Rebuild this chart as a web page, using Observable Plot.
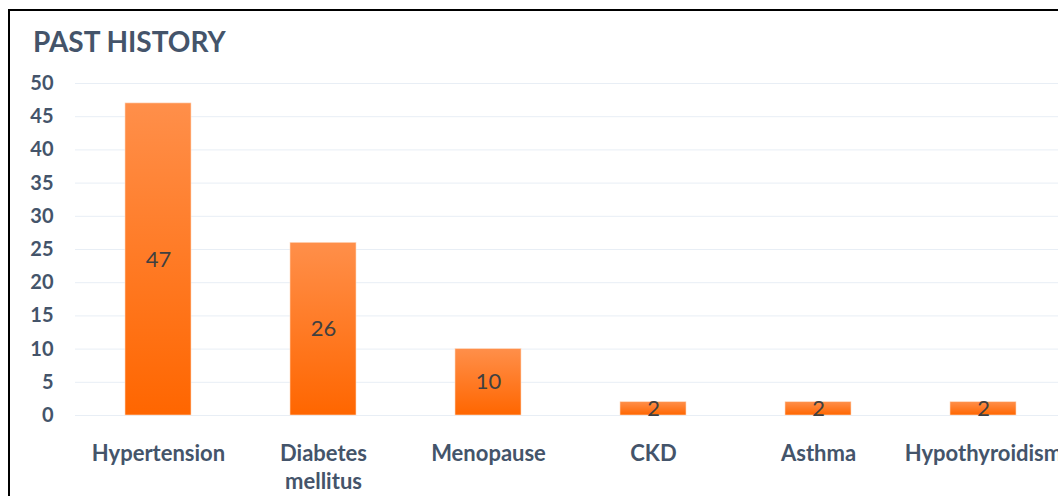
<!DOCTYPE html>
<html>
<head>
<meta charset="utf-8">
<script src="https://cdn.jsdelivr.net/npm/d3@7"></script>
<script src="https://cdn.jsdelivr.net/npm/@observablehq/plot@0.6"></script>
<style>
  html, body { margin: 0; padding: 0; background: #fff; }
  #wrap { position: relative; width: 1058px; height: 496px; overflow: hidden; font-family: Lato, "Open Sans", sans-serif; }
  #frame { position: absolute; left: 8px; top: 9px; width: 1120px; height: 520px; border: 2px solid #000; box-sizing: border-box; }
  #title { position: absolute; left: 33px; top: 27px; font-size: 28px; line-height: 28px; font-weight: 700; color: #44546A; white-space: nowrap; }
  #chart { position: absolute; left: 0; top: 0; }
</style>
</head>
<body>
<div id="wrap">
  <div id="frame"></div>
  <div id="chart"></div>
  <div id="title">PAST HISTORY</div>
</div>
<script>
// Past medical history counts
const conditions = ["Hypertension", "Diabetes\nmellitus", "Menopause", "CKD", "Asthma", "Hypothyroidism"];
const counts = [47, 26, 10, 2, 2, 2];
const yTicks = [0, 5, 10, 15, 20, 25, 30, 35, 40, 45, 50];

const rows = conditions.map((c, i) => ({condition: c, count: counts[i]}));

const textColor = "#44546A";

// Vertical orange gradient applied to each bar
const gradientDefs = () => {
  const defs = d3.create("svg:defs");
  const g = defs.append("linearGradient")
    .attr("id", "barGrad")
    .attr("x1", 0).attr("y1", 0).attr("x2", 0).attr("y2", 1);
  g.append("stop").attr("offset", "0%").attr("stop-color", "#FF8F4A");
  g.append("stop").attr("offset", "100%").attr("stop-color", "#FF6600");
  return defs.node();
};

const chart = Plot.plot({
  width: 1120,
  height: 496,
  marginTop: 83,
  marginBottom: 81,
  marginLeft: 75,
  marginRight: 0,
  style: {fontFamily: "Lato, 'Open Sans', sans-serif", background: "transparent", overflow: "visible", maxWidth: "none"},
  x: {domain: conditions, range: [75.5, 1065.5], paddingInner: 0.6, paddingOuter: 0.3, label: null},
  y: {domain: [0, 50], label: null},
  marks: [
    gradientDefs,
    Plot.gridY(yTicks, {stroke: "#E8EEF5", strokeOpacity: 1}),
    Plot.barY(rows, {x: "condition", y: "count", fill: "url(#barGrad)", stroke: "#FFD9C0", strokeWidth: 0.6}),
    Plot.text(rows, {x: "condition", y: d => d.count / 2, text: d => String(d.count), fill: "#404040", fontSize: 22}),
    Plot.axisY(yTicks, {tickSize: 0, tickPadding: 22, fontSize: 20, fontWeight: 700, fill: textColor, label: null}),
    Plot.axisX({tickSize: 0, tickPadding: 26, fontSize: 22, fontWeight: 700, fill: textColor, lineHeight: 1.27, label: null})
  ]
});

document.getElementById("chart").appendChild(chart);
</script>
</body>
</html>
